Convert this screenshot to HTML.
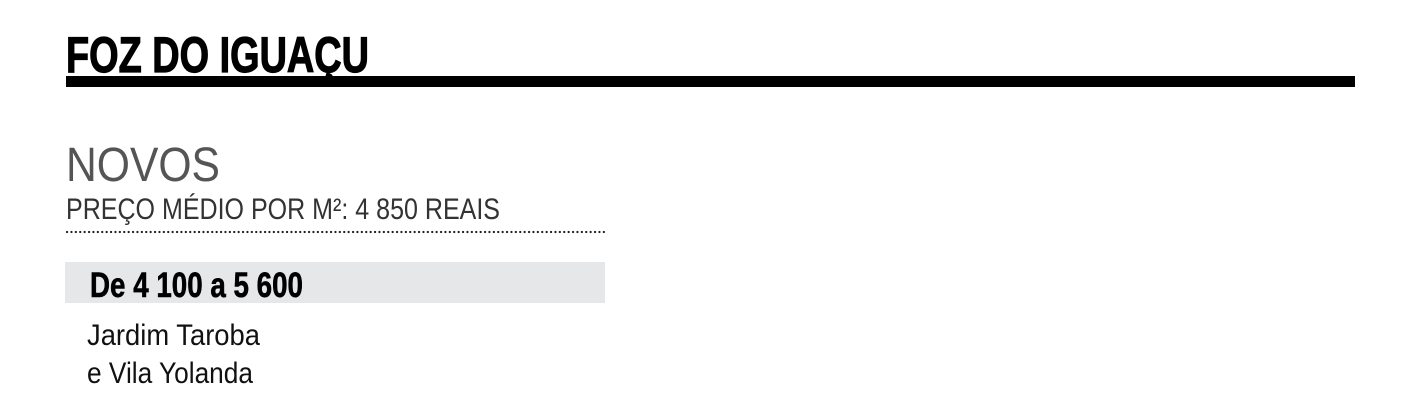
<!DOCTYPE html>
<html><head><meta charset="utf-8"><style>html,body{margin:0;padding:0;background:#fff;}svg{display:block}</style></head>
<body>
<svg width="1421" height="419" xmlns="http://www.w3.org/2000/svg" font-family="Liberation Sans, sans-serif">
<text x="66" y="72" font-size="50" font-weight="bold" fill="#000" stroke="#000" stroke-width="1.2" textLength="303" lengthAdjust="spacingAndGlyphs">FOZ DO IGUAÇU</text>
<rect x="66" y="76" width="1289" height="11" fill="#000"/>
<text x="66" y="181" font-size="48" fill="#555" textLength="154" lengthAdjust="spacingAndGlyphs">NOVOS</text>
<text x="66" y="219" font-size="30" fill="#333" textLength="434" lengthAdjust="spacingAndGlyphs">PREÇO MÉDIO POR M²: 4 850 REAIS</text>
<line x1="67" y1="232" x2="605" y2="232" stroke="#222" stroke-width="2.2" stroke-linecap="round" stroke-dasharray="0.1 4.3"/>
<rect x="65" y="262" width="540" height="41" fill="#e6e7e8"/>
<text x="90" y="297" font-size="35" font-weight="bold" fill="#000" stroke="#000" stroke-width="0.6" textLength="213" lengthAdjust="spacingAndGlyphs">De 4 100 a 5 600</text>
<text x="87" y="345" font-size="30" fill="#111" textLength="173" lengthAdjust="spacingAndGlyphs">Jardim Taroba</text>
<text x="87" y="383" font-size="30" fill="#111" textLength="166" lengthAdjust="spacingAndGlyphs">e Vila Yolanda</text>
</svg>
</body></html>
